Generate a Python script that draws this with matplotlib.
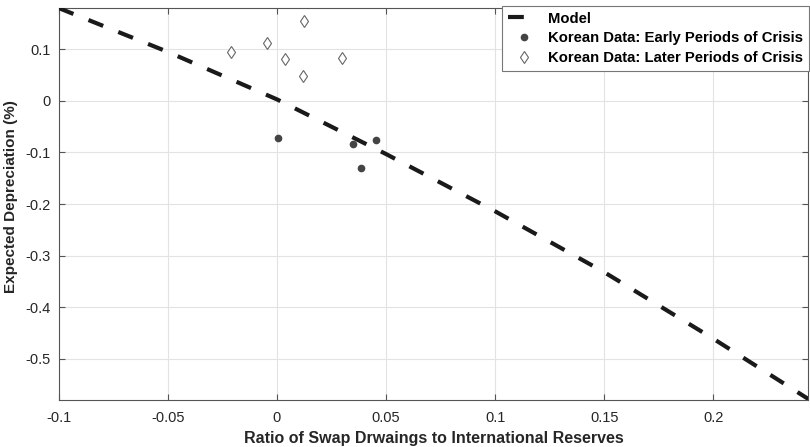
import matplotlib
matplotlib.use("Agg")
import matplotlib.pyplot as plt

# model curve
model_x = [-0.1, -0.05, 0.0, 0.05, 0.1, 0.15, 0.2, 0.2436]
model_y = [0.18, 0.095, 0.003, -0.103, -0.214, -0.332, -0.461, -0.578]

# Korean data, early periods of crisis
early_x = [0.0006, 0.035, 0.0456, 0.0384]
early_y = [-0.072, -0.084, -0.076, -0.131]

# Korean data, later periods of crisis
later_x = [-0.0211, -0.0045, 0.0123, 0.0038, 0.012, 0.0298]
later_y = [0.094, 0.112, 0.155, 0.081, 0.049, 0.084]

x_ticks = [-0.1, -0.05, 0, 0.05, 0.1, 0.15, 0.2]
x_tick_labels = ["-0.1", "-0.05", "0", "0.05", "0.1", "0.15", "0.2"]
y_ticks = [-0.5, -0.4, -0.3, -0.2, -0.1, 0, 0.1]
y_tick_labels = ["-0.5", "-0.4", "-0.3", "-0.2", "-0.1", "0", "0.1"]

plt.rcParams['font.family'] = ['Liberation Sans', 'DejaVu Sans']

fig = plt.figure(figsize=(8.1, 4.47), dpi=100)
ax = fig.add_axes([0.0725, 0.105, 0.9255, 0.877])

ax.plot(model_x, model_y, color="#1a1a1a", lw=3, linestyle=(0, (3.8, 3.9)),
        label="Model", zorder=3)
ax.plot(early_x, early_y, "o", color="#444444", ms=4.5, mec="#444444",
        label="Korean Data: Early Periods of Crisis", zorder=4)
ax.plot(later_x, later_y, "d", mfc="white", mec="#666666", mew=0.8, ms=6,
        label="Korean Data: Later Periods of Crisis", zorder=4)

ax.set_xlim(-0.1, 0.2436)
ax.set_ylim(-0.58, 0.18)
ax.set_xticks(x_ticks)
ax.set_xticklabels(x_tick_labels)
ax.set_yticks(y_ticks)
ax.set_yticklabels(y_tick_labels)

ax.grid(True, color="#e3e3e3", lw=0.8)
ax.set_axisbelow(True)
ax.tick_params(direction="in", top=True, right=True, length=4, width=0.8,
               colors="#555555", labelcolor="#262626", labelsize=10.5)
ax.tick_params(axis="x", pad=8)
ax.tick_params(axis="y", pad=6)
for s in ax.spines.values():
    s.set_color("#555555")
    s.set_linewidth(0.8)

ax.set_xlabel("Ratio of Swap Drwaings to International Reserves",
              fontsize=11.5, fontweight="bold", color="#262626", labelpad=4)
ax.set_ylabel("Expected Depreciation (%)", fontsize=11, fontweight="bold",
              color="#262626")
ax.yaxis.set_label_coords(-0.054, 0.52)

leg = ax.legend(loc="upper right", bbox_to_anchor=(1.001, 1.006), borderaxespad=0,
                fancybox=False, framealpha=1, edgecolor="#777777",
                prop={"weight": "bold", "size": 10.75}, labelspacing=0.38,
                handlelength=2.13, handletextpad=0.55, borderpad=0.4)
leg.get_frame().set_linewidth(0.8)

fig.savefig("out.png", dpi=100)
